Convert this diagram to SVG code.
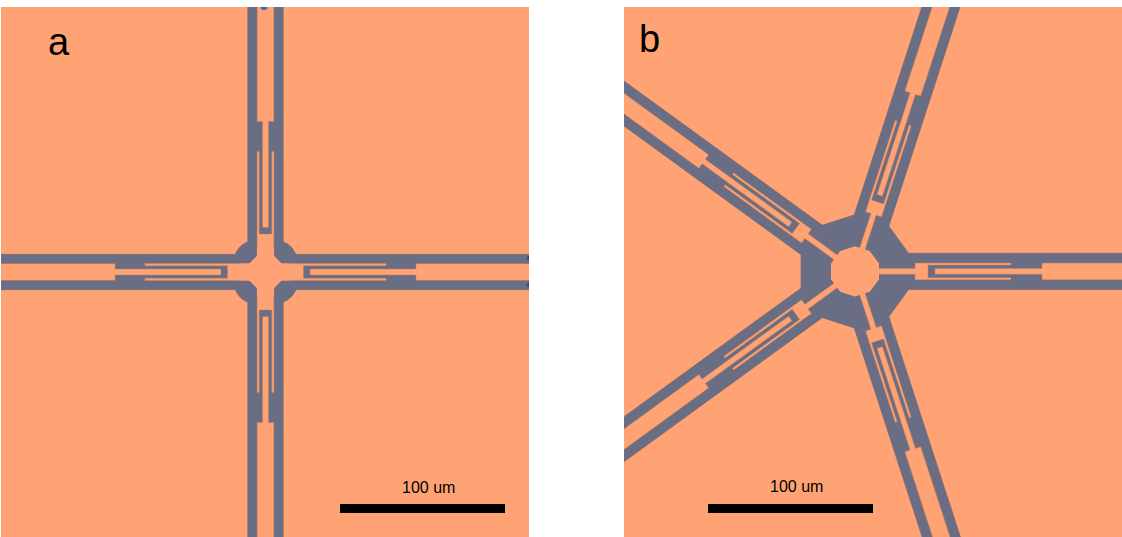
<svg xmlns="http://www.w3.org/2000/svg" xmlns:xlink="http://www.w3.org/1999/xlink" width="1122" height="537" viewBox="0 0 1122 537">
<style>
.bg{fill:#FFA375}
.edge{fill:#B07C68;stroke:#B07C68;stroke-width:.9}
.g{fill:#696E85}
.o{fill:#FFA375;stroke:#C67F58;stroke-width:.5}
.t{font-family:"Liberation Sans",Arial,sans-serif;fill:#000}
.big{font-size:38px}
.small{font-size:16px}
</style>
<defs>
<clipPath id="ca"><rect x="1" y="7" width="528" height="530"/></clipPath>
<clipPath id="cb"><rect x="624" y="7" width="498" height="530"/></clipPath>
<g id="shape-a">
<rect x="0" y="-17.7" width="320" height="35.4"/>
<rect x="0" y="-17.7" width="320" height="35.4" transform="rotate(90)"/>
<rect x="0" y="-17.7" width="320" height="35.4" transform="rotate(180)"/>
<rect x="0" y="-17.7" width="320" height="35.4" transform="rotate(270)"/>
<path d="M0,0L17.8,-30.3Q26.5,-27 30.5,-17.3Z"/>
<path d="M0,0L17.8,-30.3Q26.5,-27 30.5,-17.3Z" transform="rotate(90)"/>
<path d="M0,0L17.8,-30.3Q26.5,-27 30.5,-17.3Z" transform="rotate(180)"/>
<path d="M0,0L17.8,-30.3Q26.5,-27 30.5,-17.3Z" transform="rotate(270)"/>
<rect x="-18" y="-18" width="36" height="36"/>
</g>
<g id="shape-b">
<rect x="0" y="-18.2" width="340" height="36.4"/>
<rect x="0" y="-18.2" width="340" height="36.4" transform="rotate(72)"/>
<rect x="0" y="-18.2" width="340" height="36.4" transform="rotate(144)"/>
<rect x="0" y="-18.2" width="340" height="36.4" transform="rotate(216)"/>
<rect x="0" y="-18.2" width="340" height="36.4" transform="rotate(288)"/>
<path d="M53.4,18.4L34,45.1L-1,56.5L-32.4,46.3L-54,16.5V-16.5L-32.4,-46.3L-1,-56.5L34,-45.1L53.4,-18.4Z"/>
</g>
<g id="oa">
<path class="o" d="M0,-8.4H120.6V-6.3H38V6.3H120.6V8.4H0Z"/>
<path class="o" d="M44.6,-3H150.5V-8.3H320V8.3H150.5V3H44.6Z"/>
</g>
<g id="ob">
<path class="o" d="M20,-2.8H60V-8.4H156V-6.3H73V6.3H156V8.4H60V2.8H20Z"/>
<path class="o" d="M80,-2.8H187V-8.3H340V8.3H187V2.8H80Z"/>
</g>
</defs>
<rect width="1122" height="537" fill="#fff"/>
<g id="panel-a" clip-path="url(#ca)">
<rect class="bg" x="1" y="7" width="528" height="530"/>
<g transform="translate(265.5 272)">
<use class="edge" xlink:href="#shape-a"/>
<use class="g" xlink:href="#shape-a"/>
<use xlink:href="#oa"/>
<use xlink:href="#oa" transform="rotate(90)"/>
<use xlink:href="#oa" transform="rotate(180)"/>
<use xlink:href="#oa" transform="rotate(270)"/>
<path class="bg" d="M8.5,-16.2L16.2,-8.5H24V8.5H16.2L8.5,16.2V24H-8.5V16.2L-16.2,8.5H-24V-8.5H-16.2L-8.5,-16.2V-24H8.5Z"/>
</g>
<ellipse cx="264" cy="7" rx="3.5" ry="3" fill="#4A62C0"/>
<circle cx="529" cy="258" r="2" fill="#3E4258"/>
<circle cx="529" cy="285" r="2" fill="#3E4258"/>
</g>
<g id="panel-b" clip-path="url(#cb)">
<rect class="bg" x="624" y="7" width="498" height="530"/>
<g transform="translate(855 271.4)">
<use class="edge" xlink:href="#shape-b"/>
<use class="g" xlink:href="#shape-b"/>
<use xlink:href="#ob"/>
<use xlink:href="#ob" transform="rotate(72)"/>
<use xlink:href="#ob" transform="rotate(144)"/>
<use xlink:href="#ob" transform="rotate(216)"/>
<use xlink:href="#ob" transform="rotate(288)"/>
<path class="bg" d="M24,7.8L14.8,20.4L0,25.2L-14.8,20.4L-24,7.8V-7.8L-14.8,-20.4L0,-25.2L14.8,-20.4L24,-7.8Z"/>
</g>
</g>
<g id="labels">
<text class="t big" x="48" y="55">a</text>
<text class="t big" x="639" y="52">b</text>
<text class="t small" x="402" y="493">100 um</text>
<text class="t small" x="770" y="492">100 um</text>
<rect id="scale-a" x="340" y="504" width="165" height="9" fill="#000"/>
<rect id="scale-b" x="708" y="504" width="165" height="9" fill="#000"/>
</g>
</svg>
